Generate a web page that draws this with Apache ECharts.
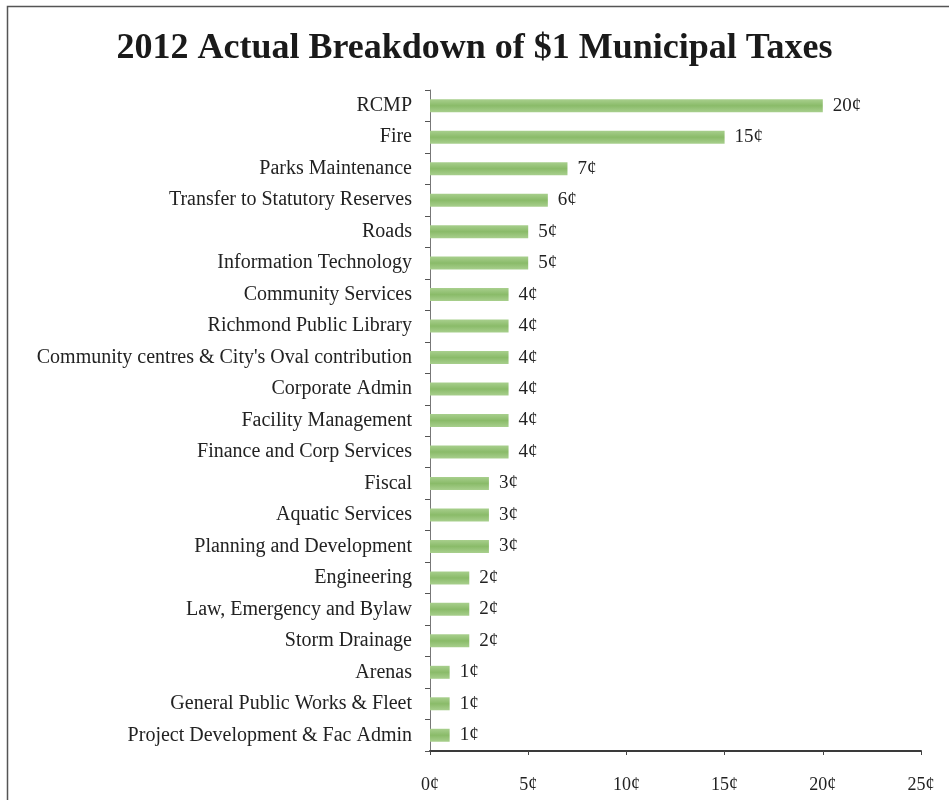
<!DOCTYPE html>
<html>
<head>
<meta charset="utf-8">
<script src="https://cdn.jsdelivr.net/npm/echarts@6/dist/echarts.min.js"></script>
<style>
  html, body { margin: 0; padding: 0; background: #fff; }
  #chart { width: 949px; height: 810px; }
</style>
</head>
<body>
<div id="chart"></div>
<script>
// Spending categories, top to bottom
const categories = [
  'RCMP',
  'Fire',
  'Parks Maintenance',
  'Transfer to Statutory Reserves',
  'Roads',
  'Information Technology',
  'Community Services',
  'Richmond Public Library',
  "Community centres & City's Oval contribution",
  'Corporate Admin',
  'Facility Management',
  'Finance and Corp Services',
  'Fiscal',
  'Aquatic Services',
  'Planning and Development',
  'Engineering',
  'Law, Emergency and Bylaw',
  'Storm Drainage',
  'Arenas',
  'General Public Works & Fleet',
  'Project Development & Fac Admin'
];

// Cents of each tax dollar
const cents = [20, 15, 7, 6, 5, 5, 4, 4, 4, 4, 4, 4, 3, 3, 3, 2, 2, 2, 1, 1, 1];

// Horizontal axis ticks (cents)
const axisTicks = [0, 5, 10, 15, 20, 25];

const serif = '"Liberation Serif", "Times New Roman", serif';
const chart = echarts.init(document.getElementById('chart'));

chart.setOption({
  animation: false,
  backgroundColor: '#ffffff',
  title: {
    text: '2012 Actual Breakdown of $1 Municipal Taxes',
    left: 'center',
    top: 26,
    textStyle: { fontFamily: serif, fontWeight: 'bold', fontSize: 36, color: '#1a1a1a' }
  },
  grid: { left: 430, right: 28, top: 90, bottom: 59 },
  xAxis: {
    type: 'value',
    min: axisTicks[0],
    max: axisTicks[axisTicks.length - 1],
    interval: axisTicks[1] - axisTicks[0],
    splitLine: { show: false },
    axisLine: { show: true, lineStyle: { color: '#3a3a3a', width: 2 } },
    axisTick: { show: true, length: 4, lineStyle: { color: '#444' } },
    axisLabel: {
      margin: 25,
      fontFamily: serif,
      fontSize: 18,
      color: '#222',
      formatter: v => v + '¢'
    }
  },
  yAxis: {
    type: 'category',
    inverse: true,
    data: categories,
    axisLine: { show: true, lineStyle: { color: '#777', width: 1 } },
    axisTick: { show: true, length: 5, lineStyle: { color: '#555' } },
    axisLabel: { margin: 18, fontFamily: serif, fontSize: 20, color: '#222' }
  },
  series: [{
    type: 'bar',
    data: cents,
    barWidth: 13,
    itemStyle: {
      color: new echarts.graphic.LinearGradient(0, 0, 0, 1, [
        { offset: 0, color: '#a8cf8d' },
        { offset: 0.5, color: '#8abb69' },
        { offset: 1, color: '#a8cf8d' }
      ])
    },
    label: {
      show: true,
      position: 'right',
      distance: 10,
      fontFamily: serif,
      fontSize: 19,
      color: '#222',
      formatter: p => p.value + '¢'
    }
  }],
  graphic: [
    {
      type: 'polyline',
      shape: { points: [[7.5, 800], [7.5, 6.5], [949, 6.5]] },
      style: { stroke: '#555', lineWidth: 1.5, fill: null }
    }
  ]
});
</script>
</body>
</html>
